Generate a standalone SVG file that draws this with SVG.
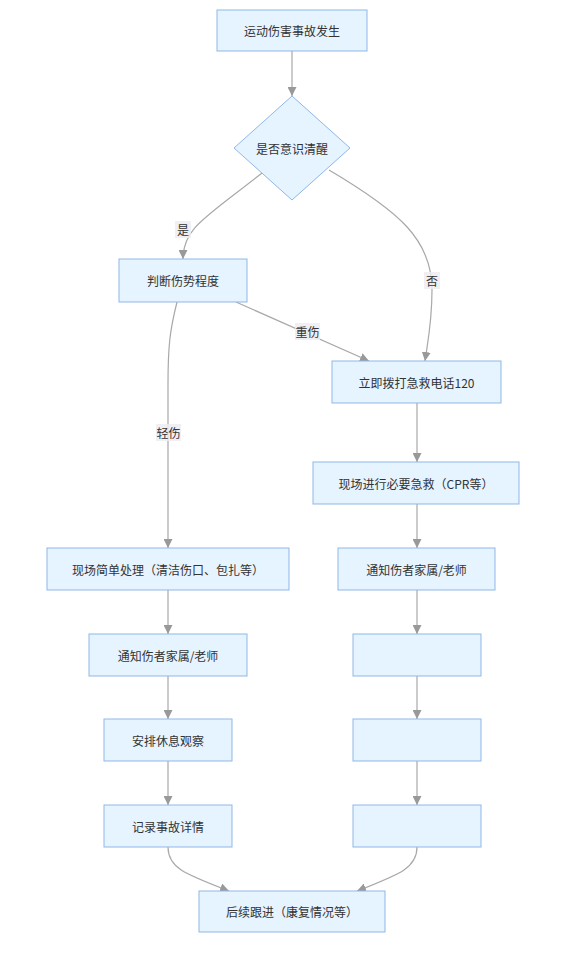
<svg xmlns="http://www.w3.org/2000/svg" width="566" height="955" viewBox="0 0 566 955">
<style>
.n rect,.n polygon{fill:#e6f4ff;stroke:#8fb7e8;stroke-width:1}
.n text{font-family:"Noto Sans CJK SC","Liberation Sans",sans-serif;font-size:12px;fill:#333;text-anchor:middle;dominant-baseline:central}
.e path{fill:none;stroke:#a8a8a8;stroke-width:1.2}
.lb rect{fill:#ececf2;opacity:0.85}
.lb text{font-family:"Noto Sans CJK SC","Liberation Sans",sans-serif;font-size:12px;fill:#333;text-anchor:middle;dominant-baseline:central}
</style>
<defs>
<marker id="ar" viewBox="0 0 10 10" refX="10" refY="5" markerWidth="9" markerHeight="9" markerUnits="userSpaceOnUse" orient="auto">
<path d="M0,0 L10,5 L0,10 z" fill="#999"/>
</marker>
</defs>
<rect width="566" height="955" fill="#fff"/>
<g id="edges" class="e">
<path d="M292,51 L292,96" marker-end="url(#ar)"/>
<path d="M262,173 C205,218 183,228 183,259" marker-end="url(#ar)"/>
<path d="M329,170 C400,212 432,240 432,290 C432,322 428,340 425,361" marker-end="url(#ar)"/>
<path d="M236,302 L369,361" marker-end="url(#ar)"/>
<path d="M177,302 C170,330 168,345 168,385 L168,548" marker-end="url(#ar)"/>
<path d="M417,403 L417,462" marker-end="url(#ar)"/>
<path d="M417,504 L417,548" marker-end="url(#ar)"/>
<path d="M168,590 L168,634" marker-end="url(#ar)"/>
<path d="M168,676 L168,719" marker-end="url(#ar)"/>
<path d="M168,761 L168,805" marker-end="url(#ar)"/>
<path d="M417,590 L417,634" marker-end="url(#ar)"/>
<path d="M417,676 L417,719" marker-end="url(#ar)"/>
<path d="M417,761 L417,805" marker-end="url(#ar)"/>
<path d="M168,847 C168,868 185,874 229,891" marker-end="url(#ar)"/>
<path d="M417,847 C417,868 400,874 357,891" marker-end="url(#ar)"/>
</g>
<g id="labels" class="lb">
<g id="lbl-yes"><rect x="175" y="221" width="16" height="17"/><text x="183" y="229.5">是</text></g>
<g id="lbl-no"><rect x="424" y="272" width="16" height="17"/><text x="432" y="280.5">否</text></g>
<g id="lbl-heavy"><rect x="295" y="323" width="25" height="17"/><text x="307.5" y="331.5">重伤</text></g>
<g id="lbl-light"><rect x="156" y="424" width="25" height="17"/><text x="168.5" y="432.5">轻伤</text></g>
</g>
<g id="n1" class="n"><rect x="217" y="10" width="150" height="41"/><text x="292" y="30.5">运动伤害事故发生</text></g>
<g id="n2" class="n"><polygon points="292,96 350,148 292,200 234,148"/><text x="292" y="148">是否意识清醒</text></g>
<g id="n3" class="n"><rect x="119" y="259" width="128" height="43"/><text x="183" y="280.5">判断伤势程度</text></g>
<g id="n4" class="n"><rect x="332" y="361" width="169" height="42"/><text x="416.5" y="382">立即拨打急救电话120</text></g>
<g id="n5" class="n"><rect x="313" y="462" width="206" height="42"/><text x="416" y="483">现场进行必要急救（CPR等）</text></g>
<g id="n6" class="n"><rect x="47" y="548" width="242" height="42"/><text x="168" y="569">现场简单处理（清洁伤口、包扎等）</text></g>
<g id="n7" class="n"><rect x="338" y="548" width="157" height="42"/><text x="416.5" y="569">通知伤者家属/老师</text></g>
<g id="n8" class="n"><rect x="89" y="634" width="158" height="42"/><text x="168" y="655">通知伤者家属/老师</text></g>
<g id="n9" class="n"><rect x="353" y="634" width="128" height="42"/></g>
<g id="n10" class="n"><rect x="104" y="719" width="128" height="42"/><text x="168" y="740">安排休息观察</text></g>
<g id="n11" class="n"><rect x="353" y="719" width="128" height="42"/></g>
<g id="n12" class="n"><rect x="104" y="805" width="128" height="42"/><text x="168" y="826">记录事故详情</text></g>
<g id="n13" class="n"><rect x="353" y="805" width="128" height="42"/></g>
<g id="n14" class="n"><rect x="199" y="891" width="186" height="41"/><text x="292" y="911.5">后续跟进（康复情况等）</text></g>
</svg>
